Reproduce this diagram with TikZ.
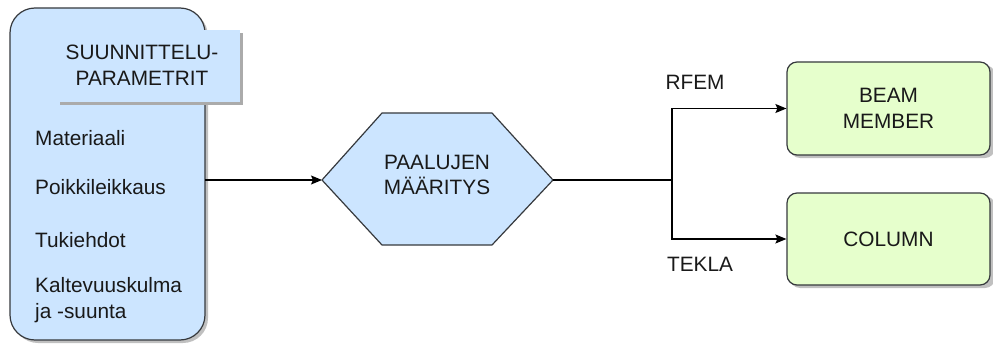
\documentclass[tikz,border=0pt]{standalone}
\usepackage{fontspec}
\setmainfont{Liberation Sans}
\usetikzlibrary{arrows.meta}
\definecolor{bluefill}{RGB}{204,229,255}
\definecolor{greenfill}{RGB}{230,255,204}
\definecolor{edge}{RGB}{54,57,61}
\definecolor{shade}{RGB}{150,150,150}
\definecolor{txt}{RGB}{25,25,25}
\begin{document}
\begin{tikzpicture}[x=1pt,y=-1pt,
  every node/.style={font=\fontsize{20.8}{25.5}\selectfont, text=txt},
  conn/.style={draw=black, line width=1.2pt},
  arr/.style={conn, -{Stealth[length=11pt,width=9pt,inset=2pt]}},
  greenbox/.style={draw=edge, line width=1.2pt, fill=greenfill, rounded corners=10pt, minimum width=203pt, inner sep=0pt, align=center},
  item/.style={anchor=west, inner sep=0pt, align=left}
]
\useasboundingbox (0,0) rectangle (993,350);
% left panel
\fill[shade!60, rounded corners=25pt] (13,11) rectangle (208,343);
\draw[edge, line width=1.2pt, fill=bluefill, rounded corners=25pt] (10,8) rectangle (205,340);
\coordinate (pE) at (205,180);
% title box with shadow
\fill[shade!80] (60,33) rectangle (243,105);
\fill[bluefill] (57,30) rectangle (240,102);
\node[align=center, inner sep=0pt] (title) at (142,65) {SUUNNITTELU-\\PARAMETRIT};
% list
\node[item] (m1) at (35,138) {Materiaali};
\node[item] (m2) at (35,187) {Poikkileikkaus};
\node[item] (m3) at (35,240) {Tukiehdot};
\node[item] (m4) at (35,300) {Kaltevuuskulma\\ja -suunta};
% hexagon
\coordinate (hexL) at (322,180);
\coordinate (hexR) at (553,180);
\draw[edge, line width=1.2pt, fill=bluefill, line join=round]
  (hexL) -- (382,113) -- (492,113) -- (hexR) -- (492,245) -- (382,245) -- cycle;
\node[align=center, inner sep=0pt] (hex) at (437,175) {PAALUJEN\\MÄÄRITYS};
% right boxes
\fill[shade!60, rounded corners=10pt] (790,65) rectangle (995,158);
\fill[shade!60, rounded corners=10pt] (790,196) rectangle (995,288);
\node[greenbox, minimum height=93pt] (beam) at (888.5,108.5) {BEAM\\MEMBER};
\node[greenbox, minimum height=92pt] (col) at (888.5,239) {COLUMN};
% connectors
\draw[arr] (pE) -- (hexL);
\coordinate (j) at (672,180);
\draw[conn] (hexR) -- (j);
\draw[arr] (j) |- (beam.west);
\draw[arr] (j) |- (col.west);
% labels
\node (rfem) at (695,82) {RFEM};
\node (tekla) at (700,264) {TEKLA};
\end{tikzpicture}
\end{document}
